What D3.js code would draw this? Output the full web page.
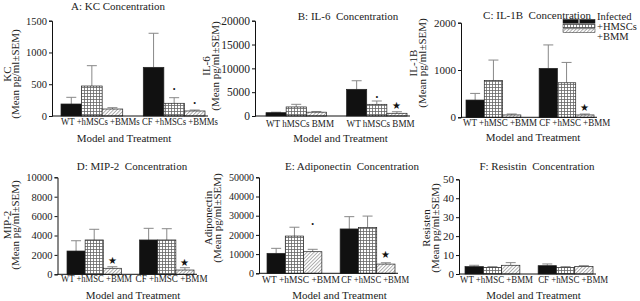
<!DOCTYPE html>
<html>
<head>
<meta charset="utf-8">
<script src="https://cdn.jsdelivr.net/npm/d3@7"></script>
<style>
  body { margin: 0; background: #fff; }
  svg { display: block; }
  svg text { font-family: "Liberation Serif", "Times New Roman", serif; }
</style>
</head>
<body>
<svg id="chart" width="640" height="301"></svg>
<script>
// treatments inside each model (WT, CF)
const treatments = ["Infected", "+HMSCs", "+BMM"];
const legendLabels = ["Infected", "+HMSCs", "+BMM"];
// 7 slots: 3 WT bars, an empty slot, 3 CF bars
const slots = ["WT", "WT+hMSC", "WT+BMM", "gap", "CF", "CF+hMSC", "CF+BMM"];

// mean and SEM per bar, order: WT, WT+hMSC, WT+BMM, CF, CF+hMSC, CF+BMM
const kcMean = [189, 472, 110, 766, 200, 79];
const kcSem = [105, 320, 21, 536, 88, 15];
const il6Mean = [700, 1900, 800, 5600, 2450, 570];
const il6Sem = [100, 550, 150, 1800, 700, 330];
const il1bMean = [365, 775, 50, 1035, 730, 50];
const il1bSem = [140, 435, 20, 495, 430, 20];
const mip2Mean = [2400, 3540, 620, 3540, 3540, 440];
const mip2Sem = [1060, 1100, 160, 1200, 1160, 240];
const adipoMean = [10400, 19400, 11250, 23100, 23800, 4800];
const adipoSem = [2600, 4600, 1250, 6400, 6000, 700];
const resistinMean = [3.9, 3.5, 4.6, 4.4, 3.4, 3.9];
const resistinSem = [0.7, 0.4, 1.4, 0.9, 0.5, 0.5];

// y axis ticks
const kcTicks = [0, 500, 1000, 1500];
const il6Ticks = [0, 5000, 10000, 15000, 20000];
const il1bTicks = [0, 1000, 2000];
const mip2Ticks = [0, 2000, 4000, 6000, 8000, 10000];
const adipoTicks = [0, 10000, 20000, 30000, 40000, 50000];
const resistinTicks = [0, 10, 20, 30, 40, 50];

// x tick labels, one list per model group
const kcLabels = [["WT", "+hMSCs", "+BMMs", "CF", "+hMSCs", "+BMMs"]];
const il6Labels = [["WT", "hMSCs", "BMM"], ["WT", "hMSCs", "BMM"]];
const il1bLabels = [["WT", "+hMSC", "+BMM"], ["CF", "+hMSC", "+BMM"]];
const mip2Labels = [["WT", "+hMSC", "+BMM"], ["CF", "+hMSC", "+BMM"]];
const adipoLabels = [["WT", "+hMSC", "+BMM"], ["CF", "+hMSC", "+BMM"]];
const resistinLabels = [["WT", "+hMSC", "+BMM"], ["CF", "+hMSC", "+BMM"]];

// significance marks: bar index, symbol, height in data units
const kcMarks = [[4, "•", 425], [5, "•", 205]];
const il6Marks = [[4, "•", 3990], [5, "★", 2100]];
const il1bMarks = [[5, "★", 204]];
const mip2Marks = [[2, "★", 1470], [5, "★", 1220]];
const adipoMarks = [[2, "•", 25700], [5, "★", 9900]];
const resistinMarks = [];

const titles = ["A: KC Concentration", "B: IL-6  Concentration", "C: IL-1B  Concentration",
  "D: MIP-2  Concentration", "E: Adiponectin  Concentration", "F: Resistin  Concentration"];
const yNames = ["KC", "IL-6", "IL-1B", "MIP-2", "Adiponectin", "Resisten"];
const xTitle = "Model and Treatment";
const yUnit = "(Mean pg/ml±SEM)";

const FONT = "Liberation Serif";

// layout for each panel
const panels = [
  {mean: kcMean, sem: kcSem, ticks: kcTicks, labels: kcLabels, marks: kcMarks,
   ax: 52, bands: [61, 205], top: 20.7, base: 116, tickFont: 10.5,
   titleX: 118, titleY: 9.5, yLabX: 7, yLab2X: 15, yLabY: 74,
   labStarts: [0], labDx: [0], labW: [157], labY: 125, xtX: 124, xtY: 141.5},
  {mean: il6Mean, sem: il6Sem, ticks: il6Ticks, labels: il6Labels, marks: il6Marks,
   ax: 255, bands: [266, 407], top: 20.7, base: 116, tickFont: 11.5,
   titleX: 348, titleY: 19.5, yLabX: 206, yLab2X: 215, yLabY: 66,
   labStarts: [0, 4], labDx: [0, 0], labW: [68, 68], labY: 126.5, xtX: 340.5, xtY: 141.5},
  {mean: il1bMean, sem: il1bSem, ticks: il1bTicks, labels: il1bLabels, marks: il1bMarks,
   ax: 461, bands: [466, 594], top: 22.7, base: 117.3, tickFont: 11,
   titleX: 537, titleY: 19, yLabX: 413, yLab2X: 422, yLabY: 63,
   labStarts: [0, 4], labDx: [-3, 0], labW: [74, 71], labY: 125.5, xtX: 533, xtY: 140.5},
  {mean: mip2Mean, sem: mip2Sem, ticks: mip2Ticks, labels: mip2Labels, marks: mip2Marks,
   ax: 57.5, bands: [67, 194], top: 177.3, base: 274.3, tickFont: 10.5,
   titleX: 132, titleY: 169.5, yLabX: 7, yLab2X: 15, yLabY: 225,
   labStarts: [0, 4], labDx: [-6, -4], labW: [71, 72], labY: 281.5, xtX: 133, xtY: 299},
  {mean: adipoMean, sem: adipoSem, ticks: adipoTicks, labels: adipoLabels, marks: adipoMarks,
   ax: 259, bands: [267, 395], top: 177.3, base: 273.3, tickFont: 10,
   titleX: 352, titleY: 169.5, yLabX: 208, yLab2X: 217, yLabY: 218,
   labStarts: [0, 4], labDx: [-5, 1], labW: [78, 68], labY: 282.5, xtX: 339.5, xtY: 299},
  {mean: resistinMean, sem: resistinSem, ticks: resistinTicks, labels: resistinLabels, marks: resistinMarks,
   ax: 459, bands: [465, 593], top: 179.3, base: 274, tickFont: 11,
   titleX: 537, titleY: 169.5, yLabX: 426, yLab2X: 435, yLabY: 228,
   labStarts: [0, 4], labDx: [-5, 0], labW: [73, 70], labY: 283, xtX: 533.5, xtY: 299}
];

const svg = d3.select("#chart");
svg.append("rect").attr("width", 640).attr("height", 301).attr("fill", "#fff");

// fills: solid, grid, diagonal hatch
const defs = svg.append("defs");
const grid = defs.append("pattern").attr("id", "grid")
  .attr("patternUnits", "userSpaceOnUse").attr("width", 3).attr("height", 3);
grid.append("rect").attr("width", 3).attr("height", 3).attr("fill", "#fff");
grid.append("path").attr("d", "M0,0.5H3M0.5,0V3").attr("stroke", "#666").attr("stroke-width", 0.8);
const hatch = defs.append("pattern").attr("id", "hatch")
  .attr("patternUnits", "userSpaceOnUse").attr("width", 2.5).attr("height", 2.5)
  .attr("patternTransform", "rotate(-45)");
hatch.append("rect").attr("width", 2.5).attr("height", 2.5).attr("fill", "#fff");
hatch.append("line").attr("x1", 0).attr("y1", 0.5).attr("x2", 2.5).attr("y2", 0.5)
  .attr("stroke", "#999").attr("stroke-width", 0.8);

const fillOf = d3.scaleOrdinal().domain(treatments).range(["#111", "url(#grid)", "url(#hatch)"]);

panels.forEach((p, k) => {
  const x = d3.scaleBand().domain(slots).range(p.bands).padding(0);
  const y = d3.scaleLinear().domain([0, d3.max(p.ticks)]).range([p.base, p.top]);
  const g = svg.append("g");

  const bars = p.mean.map((m, i) => ({
    slot: slots[i < 3 ? i : i + 1], treat: treatments[i % 3], mean: m, sem: p.sem[i]
  }));

  // error bars (upper only)
  const eb = g.selectAll(".err").data(bars).join("g").attr("stroke", "#888").attr("stroke-width", 1);
  eb.append("line")
    .attr("x1", d => x(d.slot) + x.bandwidth() / 2).attr("x2", d => x(d.slot) + x.bandwidth() / 2)
    .attr("y1", d => y(d.mean)).attr("y2", d => y(d.mean + d.sem));
  eb.append("line")
    .attr("x1", d => x(d.slot) + x.bandwidth() / 2 - 5).attr("x2", d => x(d.slot) + x.bandwidth() / 2 + 5)
    .attr("y1", d => y(d.mean + d.sem)).attr("y2", d => y(d.mean + d.sem));

  g.selectAll(".bar").data(bars).join("rect")
    .attr("x", d => x(d.slot)).attr("width", x.bandwidth())
    .attr("y", d => y(d.mean)).attr("height", d => y(0) - y(d.mean))
    .attr("fill", d => fillOf(d.treat)).attr("stroke", "#222").attr("stroke-width", 0.7);

  // y axis
  const yAxis = d3.axisLeft(y).tickValues(p.ticks).tickSize(3).tickPadding(2).tickFormat(d3.format("d"));
  const ya = g.append("g").attr("transform", `translate(${p.ax},0)`).call(yAxis)
    .attr("font-family", FONT).attr("font-size", p.tickFont);
  ya.select(".domain").attr("stroke", "#111");
  ya.selectAll(".tick line").attr("stroke", "#111");
  ya.selectAll("text").attr("fill", "#222");

  // baseline
  g.append("line").attr("x1", p.ax).attr("x2", p.bands[1] + 3)
    .attr("y1", y(0)).attr("y2", y(0)).attr("stroke", "#111").attr("stroke-width", 1);

  // x tick labels
  p.labels.forEach((labs, j) => {
    g.append("text")
      .attr("x", x(slots[p.labStarts[j]]) + p.labDx[j]).attr("y", p.labY)
      .attr("font-family", FONT).attr("font-size", 10).attr("fill", "#222")
      .attr("textLength", p.labW[j]).attr("lengthAdjust", "spacingAndGlyphs")
      .text(labs.join(" "));
  });

  // significance marks
  p.marks.forEach(([bi, sym, v]) => {
    const s = slots[bi < 3 ? bi : bi + 1];
    g.append("text").attr("x", x(s) + x.bandwidth() / 2).attr("y", y(v))
      .attr("dy", "0.35em").attr("text-anchor", "middle")
      .attr("font-family", "DejaVu Sans").attr("font-size", sym === "★" ? 10 : 8).attr("fill", "#111")
      .text(sym);
  });

  // titles
  g.append("text").attr("x", p.titleX).attr("y", p.titleY).attr("text-anchor", "middle")
    .attr("font-family", FONT).attr("font-size", 11).attr("fill", "#222")
    .style("white-space", "pre").text(titles[k]);
  g.append("text").attr("x", p.xtX).attr("y", p.xtY).attr("text-anchor", "middle")
    .attr("font-family", FONT).attr("font-size", 11).attr("fill", "#222").text(xTitle);
  g.append("text").attr("transform", `translate(${p.yLabX},${p.yLabY}) rotate(-90)`)
    .attr("dy", "0.35em").attr("text-anchor", "middle")
    .attr("font-family", FONT).attr("font-size", 11).attr("fill", "#222").text(yNames[k]);
  g.append("text").attr("transform", `translate(${p.yLab2X},${p.yLabY}) rotate(-90)`)
    .attr("dy", "0.35em").attr("text-anchor", "middle")
    .attr("font-family", FONT).attr("font-size", 11).attr("fill", "#222").text(yUnit);
});

// legend (panel C), swatches sit under the end of the title
const legY = d3.scaleBand().domain(legendLabels).range([18.5, 33.5]).padding(0.2);
const leg = svg.append("g");
leg.selectAll("rect").data(legendLabels).join("rect")
  .attr("x", 563).attr("width", 32)
  .attr("y", d => legY(d)).attr("height", legY.bandwidth())
  .attr("fill", d => fillOf(treatments[legendLabels.indexOf(d)]))
  .attr("stroke", "#222").attr("stroke-width", 0.5);
leg.append("line").attr("x1", 579).attr("x2", 579).attr("y1", legY("Infected"))
  .attr("y2", legY("Infected") + legY.bandwidth()).attr("stroke", "#fff").attr("stroke-width", 1);
const legT = d3.scalePoint().domain(legendLabels).range([19.5, 40]);
leg.selectAll("text").data(legendLabels).join("text")
  .attr("x", 597).attr("y", d => legT(d))
  .attr("font-family", FONT).attr("font-size", 10.5).attr("fill", "#222").text(d => d);
</script>
</body>
</html>
